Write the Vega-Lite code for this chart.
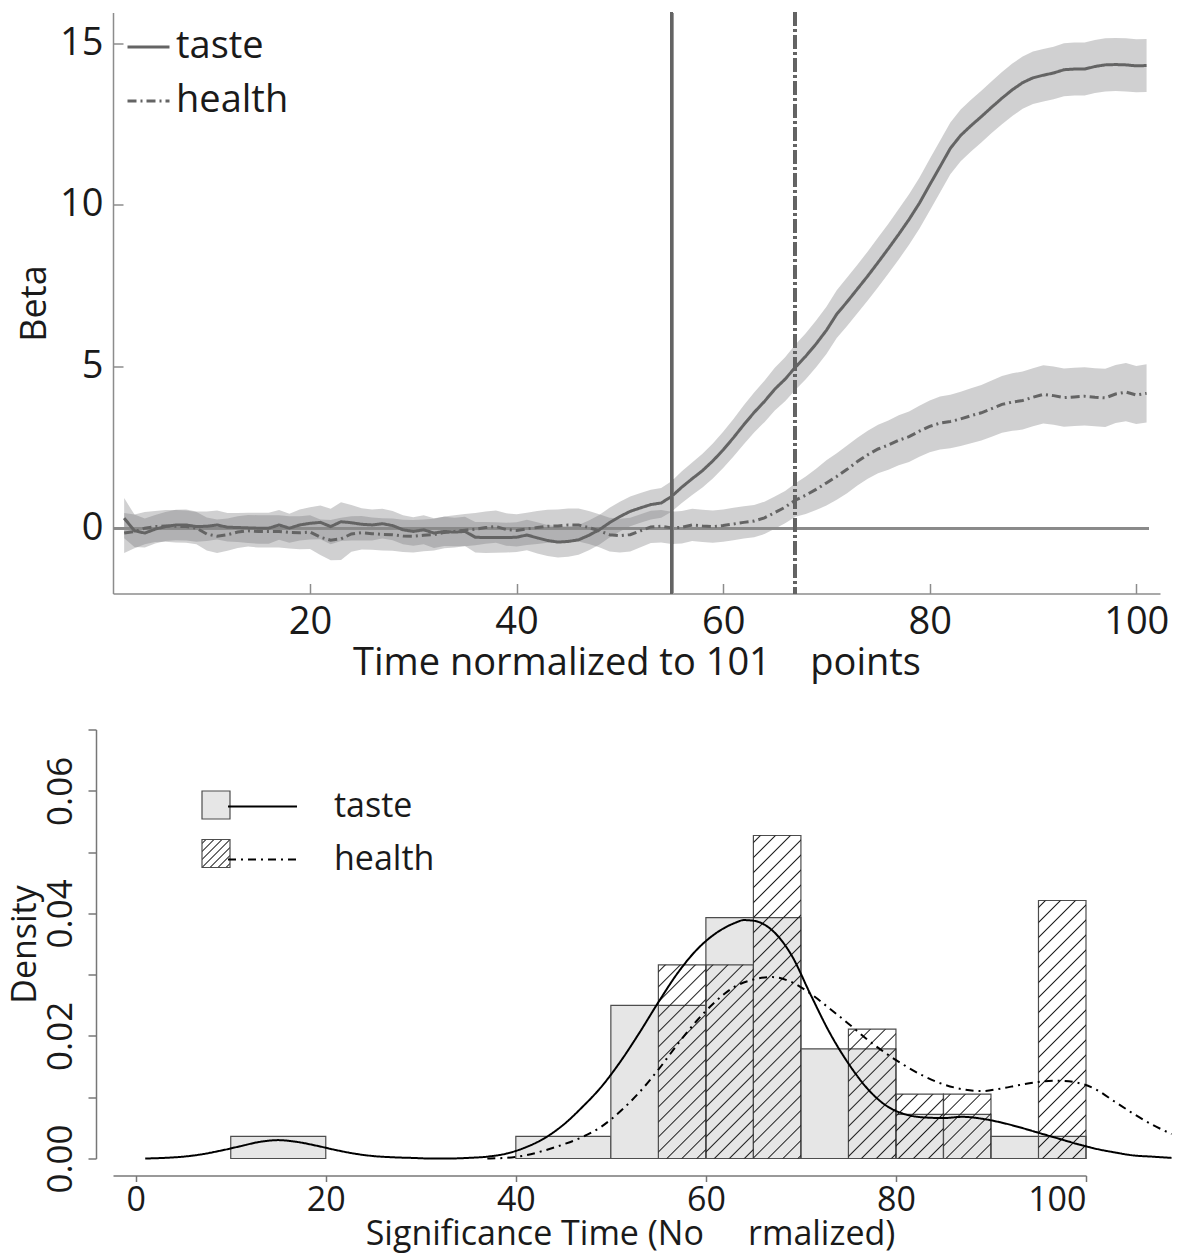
{
"$schema": "https://vega.github.io/schema/vega-lite/v6.json",
"autosize": {"type": "pad"},
"padding": {"left": 8, "top": 10.5, "right": 5, "bottom": 3},
"bounds": "flush",
"spacing": 136,
"resolve": {"scale": {"strokeDash": "independent", "fill": "independent", "stroke": "independent"}, "legend": {"strokeDash": "independent", "fill": "independent", "stroke": "independent"}},
"config": {
  "view": {"stroke": null},
  "font": "Open Sans",
  "axis": {"grid": false, "labelColor": "#1a1a1a", "titleColor": "#1a1a1a", "titleFontWeight": "normal", "domainColor": "#8c8c8c", "tickColor": "#8c8c8c", "domainWidth": 1.5, "tickWidth": 1.5, "labelFont": "Open Sans", "titleFont": "Open Sans"},
  "legend": {"labelColor": "#1a1a1a", "labelFont": "Open Sans"}
},
"datasets": {
  "beta": [
{"t":2,"taste":0.31,"tLo":-0.31,"tHi":0.93,"health":-0.15,"hLo":-0.77,"hHi":0.47},
{"t":3,"taste":-0.08,"tLo":-0.58,"tHi":0.42,"health":-0.1,"hLo":-0.62,"hHi":0.42},
{"t":4,"taste":-0.15,"tLo":-0.6,"tHi":0.3,"health":0.0,"hLo":-0.5,"hHi":0.5},
{"t":5,"taste":-0.03,"tLo":-0.47,"tHi":0.41,"health":0.05,"hLo":-0.43,"hHi":0.53},
{"t":6,"taste":0.05,"tLo":-0.4,"tHi":0.5,"health":0.07,"hLo":-0.42,"hHi":0.56},
{"t":7,"taste":0.1,"tLo":-0.37,"tHi":0.57,"health":0.06,"hLo":-0.44,"hHi":0.56},
{"t":8,"taste":0.1,"tLo":-0.38,"tHi":0.58,"health":0.05,"hLo":-0.45,"hHi":0.55},
{"t":9,"taste":0.05,"tLo":-0.42,"tHi":0.52,"health":0.0,"hLo":-0.5,"hHi":0.5},
{"t":10,"taste":0.06,"tLo":-0.4,"tHi":0.52,"health":-0.18,"hLo":-0.69,"hHi":0.33},
{"t":11,"taste":0.1,"tLo":-0.35,"tHi":0.55,"health":-0.25,"hLo":-0.77,"hHi":0.27},
{"t":12,"taste":0.03,"tLo":-0.41,"tHi":0.47,"health":-0.2,"hLo":-0.7,"hHi":0.3},
{"t":13,"taste":0.02,"tLo":-0.43,"tHi":0.47,"health":-0.12,"hLo":-0.61,"hHi":0.37},
{"t":14,"taste":0.01,"tLo":-0.46,"tHi":0.48,"health":-0.08,"hLo":-0.57,"hHi":0.41},
{"t":15,"taste":0.0,"tLo":-0.48,"tHi":0.48,"health":-0.1,"hLo":-0.6,"hHi":0.4},
{"t":16,"taste":0.0,"tLo":-0.48,"tHi":0.48,"health":-0.1,"hLo":-0.6,"hHi":0.4},
{"t":17,"taste":0.1,"tLo":-0.36,"tHi":0.56,"health":-0.1,"hLo":-0.6,"hHi":0.4},
{"t":18,"taste":0.0,"tLo":-0.45,"tHi":0.45,"health":-0.13,"hLo":-0.63,"hHi":0.37},
{"t":19,"taste":0.1,"tLo":-0.38,"tHi":0.58,"health":-0.14,"hLo":-0.65,"hHi":0.37},
{"t":20,"taste":0.15,"tLo":-0.35,"tHi":0.65,"health":-0.12,"hLo":-0.64,"hHi":0.4},
{"t":21,"taste":0.18,"tLo":-0.34,"tHi":0.7,"health":-0.28,"hLo":-0.83,"hHi":0.27},
{"t":22,"taste":0.05,"tLo":-0.5,"tHi":0.6,"health":-0.37,"hLo":-0.99,"hHi":0.25},
{"t":23,"taste":0.2,"tLo":-0.4,"tHi":0.8,"health":-0.33,"hLo":-0.98,"hHi":0.32},
{"t":24,"taste":0.17,"tLo":-0.38,"tHi":0.72,"health":-0.18,"hLo":-0.73,"hHi":0.37},
{"t":25,"taste":0.12,"tLo":-0.38,"tHi":0.62,"health":-0.14,"hLo":-0.66,"hHi":0.38},
{"t":26,"taste":0.1,"tLo":-0.38,"tHi":0.58,"health":-0.17,"hLo":-0.67,"hHi":0.33},
{"t":27,"taste":0.14,"tLo":-0.32,"tHi":0.6,"health":-0.19,"hLo":-0.69,"hHi":0.31},
{"t":28,"taste":0.08,"tLo":-0.37,"tHi":0.53,"health":-0.2,"hLo":-0.7,"hHi":0.3},
{"t":29,"taste":-0.05,"tLo":-0.5,"tHi":0.4,"health":-0.24,"hLo":-0.74,"hHi":0.26},
{"t":30,"taste":-0.1,"tLo":-0.54,"tHi":0.34,"health":-0.25,"hLo":-0.75,"hHi":0.25},
{"t":31,"taste":-0.05,"tLo":-0.5,"tHi":0.4,"health":-0.22,"hLo":-0.71,"hHi":0.27},
{"t":32,"taste":-0.15,"tLo":-0.61,"tHi":0.31,"health":-0.2,"hLo":-0.69,"hHi":0.29},
{"t":33,"taste":-0.1,"tLo":-0.55,"tHi":0.35,"health":-0.13,"hLo":-0.62,"hHi":0.36},
{"t":34,"taste":-0.12,"tLo":-0.56,"tHi":0.32,"health":-0.1,"hLo":-0.6,"hHi":0.4},
{"t":35,"taste":-0.1,"tLo":-0.55,"tHi":0.35,"health":-0.06,"hLo":-0.56,"hHi":0.44},
{"t":36,"taste":-0.28,"tLo":-0.75,"tHi":0.19,"health":-0.03,"hLo":-0.53,"hHi":0.47},
{"t":37,"taste":-0.29,"tLo":-0.77,"tHi":0.19,"health":0.02,"hLo":-0.48,"hHi":0.52},
{"t":38,"taste":-0.29,"tLo":-0.76,"tHi":0.18,"health":0.05,"hLo":-0.45,"hHi":0.55},
{"t":39,"taste":-0.29,"tLo":-0.75,"tHi":0.17,"health":-0.04,"hLo":-0.54,"hHi":0.46},
{"t":40,"taste":-0.28,"tLo":-0.74,"tHi":0.18,"health":-0.07,"hLo":-0.57,"hHi":0.43},
{"t":41,"taste":-0.21,"tLo":-0.68,"tHi":0.26,"health":-0.02,"hLo":-0.52,"hHi":0.48},
{"t":42,"taste":-0.3,"tLo":-0.78,"tHi":0.18,"health":0.02,"hLo":-0.49,"hHi":0.53},
{"t":43,"taste":-0.38,"tLo":-0.86,"tHi":0.1,"health":0.06,"hLo":-0.45,"hHi":0.57},
{"t":44,"taste":-0.43,"tLo":-0.91,"tHi":0.05,"health":0.07,"hLo":-0.44,"hHi":0.58},
{"t":45,"taste":-0.41,"tLo":-0.88,"tHi":0.06,"health":0.1,"hLo":-0.41,"hHi":0.61},
{"t":46,"taste":-0.36,"tLo":-0.82,"tHi":0.1,"health":0.1,"hLo":-0.41,"hHi":0.61},
{"t":47,"taste":-0.22,"tLo":-0.68,"tHi":0.24,"health":0.02,"hLo":-0.49,"hHi":0.53},
{"t":48,"taste":-0.05,"tLo":-0.51,"tHi":0.41,"health":-0.08,"hLo":-0.59,"hHi":0.43},
{"t":49,"taste":0.17,"tLo":-0.29,"tHi":0.63,"health":-0.2,"hLo":-0.72,"hHi":0.32},
{"t":50,"taste":0.36,"tLo":-0.1,"tHi":0.82,"health":-0.23,"hLo":-0.75,"hHi":0.29},
{"t":51,"taste":0.52,"tLo":0.06,"tHi":0.98,"health":-0.2,"hLo":-0.72,"hHi":0.32},
{"t":52,"taste":0.63,"tLo":0.17,"tHi":1.09,"health":-0.08,"hLo":-0.59,"hHi":0.43},
{"t":53,"taste":0.73,"tLo":0.27,"tHi":1.19,"health":0.04,"hLo":-0.46,"hHi":0.54},
{"t":54,"taste":0.78,"tLo":0.32,"tHi":1.24,"health":0.06,"hLo":-0.44,"hHi":0.56},
{"t":55,"taste":0.98,"tLo":0.51,"tHi":1.45,"health":0.01,"hLo":-0.49,"hHi":0.51},
{"t":56,"taste":1.27,"tLo":0.78,"tHi":1.76,"health":0.03,"hLo":-0.47,"hHi":0.53},
{"t":57,"taste":1.53,"tLo":1.03,"tHi":2.03,"health":0.1,"hLo":-0.4,"hHi":0.6},
{"t":58,"taste":1.78,"tLo":1.26,"tHi":2.3,"health":0.07,"hLo":-0.43,"hHi":0.57},
{"t":59,"taste":2.08,"tLo":1.54,"tHi":2.62,"health":0.05,"hLo":-0.45,"hHi":0.55},
{"t":60,"taste":2.42,"tLo":1.86,"tHi":2.98,"health":0.08,"hLo":-0.42,"hHi":0.58},
{"t":61,"taste":2.8,"tLo":2.22,"tHi":3.38,"health":0.13,"hLo":-0.37,"hHi":0.63},
{"t":62,"taste":3.2,"tLo":2.6,"tHi":3.8,"health":0.18,"hLo":-0.32,"hHi":0.68},
{"t":63,"taste":3.58,"tLo":2.96,"tHi":4.2,"health":0.22,"hLo":-0.28,"hHi":0.72},
{"t":64,"taste":3.92,"tLo":3.28,"tHi":4.56,"health":0.32,"hLo":-0.18,"hHi":0.82},
{"t":65,"taste":4.3,"tLo":3.64,"tHi":4.96,"health":0.48,"hLo":-0.02,"hHi":0.98},
{"t":66,"taste":4.61,"tLo":3.93,"tHi":5.29,"health":0.65,"hLo":0.15,"hHi":1.15},
{"t":67,"taste":4.98,"tLo":4.28,"tHi":5.68,"health":0.87,"hLo":0.35,"hHi":1.39},
{"t":68,"taste":5.32,"tLo":4.61,"tHi":6.03,"health":1.02,"hLo":0.44,"hHi":1.6},
{"t":69,"taste":5.7,"tLo":4.98,"tHi":6.42,"health":1.2,"hLo":0.56,"hHi":1.84},
{"t":70,"taste":6.12,"tLo":5.39,"tHi":6.85,"health":1.4,"hLo":0.7,"hHi":2.1},
{"t":71,"taste":6.62,"tLo":5.88,"tHi":7.36,"health":1.6,"hLo":0.88,"hHi":2.32},
{"t":72,"taste":7.0,"tLo":6.25,"tHi":7.75,"health":1.82,"hLo":1.08,"hHi":2.56},
{"t":73,"taste":7.4,"tLo":6.65,"tHi":8.15,"health":2.06,"hLo":1.32,"hHi":2.8},
{"t":74,"taste":7.8,"tLo":7.04,"tHi":8.56,"health":2.27,"hLo":1.53,"hHi":3.01},
{"t":75,"taste":8.22,"tLo":7.45,"tHi":8.99,"health":2.45,"hLo":1.7,"hHi":3.2},
{"t":76,"taste":8.65,"tLo":7.88,"tHi":9.42,"health":2.57,"hLo":1.81,"hHi":3.33},
{"t":77,"taste":9.09,"tLo":8.31,"tHi":9.87,"health":2.72,"hLo":1.95,"hHi":3.49},
{"t":78,"taste":9.55,"tLo":8.77,"tHi":10.33,"health":2.83,"hLo":2.05,"hHi":3.61},
{"t":79,"taste":10.05,"tLo":9.26,"tHi":10.84,"health":3.0,"hLo":2.21,"hHi":3.79},
{"t":80,"taste":10.62,"tLo":9.82,"tHi":11.42,"health":3.15,"hLo":2.35,"hHi":3.95},
{"t":81,"taste":11.18,"tLo":10.38,"tHi":11.98,"health":3.25,"hLo":2.43,"hHi":4.07},
{"t":82,"taste":11.75,"tLo":10.95,"tHi":12.55,"health":3.3,"hLo":2.47,"hHi":4.13},
{"t":83,"taste":12.15,"tLo":11.35,"tHi":12.95,"health":3.38,"hLo":2.54,"hHi":4.22},
{"t":84,"taste":12.45,"tLo":11.65,"tHi":13.25,"health":3.48,"hLo":2.63,"hHi":4.33},
{"t":85,"taste":12.73,"tLo":11.93,"tHi":13.53,"health":3.57,"hLo":2.71,"hHi":4.43},
{"t":86,"taste":13.02,"tLo":12.22,"tHi":13.82,"health":3.7,"hLo":2.83,"hHi":4.57},
{"t":87,"taste":13.3,"tLo":12.49,"tHi":14.11,"health":3.83,"hLo":2.95,"hHi":4.71},
{"t":88,"taste":13.56,"tLo":12.75,"tHi":14.37,"health":3.9,"hLo":3.01,"hHi":4.79},
{"t":89,"taste":13.78,"tLo":12.97,"tHi":14.59,"health":3.95,"hLo":3.05,"hHi":4.85},
{"t":90,"taste":13.93,"tLo":13.12,"tHi":14.74,"health":4.05,"hLo":3.15,"hHi":4.95},
{"t":91,"taste":14.01,"tLo":13.2,"tHi":14.82,"health":4.14,"hLo":3.24,"hHi":5.04},
{"t":92,"taste":14.08,"tLo":13.27,"tHi":14.89,"health":4.1,"hLo":3.2,"hHi":5.0},
{"t":93,"taste":14.18,"tLo":13.36,"tHi":15.0,"health":4.04,"hLo":3.14,"hHi":4.94},
{"t":94,"taste":14.2,"tLo":13.38,"tHi":15.02,"health":4.06,"hLo":3.16,"hHi":4.96},
{"t":95,"taste":14.2,"tLo":13.38,"tHi":15.02,"health":4.08,"hLo":3.18,"hHi":4.98},
{"t":96,"taste":14.28,"tLo":13.46,"tHi":15.1,"health":4.05,"hLo":3.15,"hHi":4.95},
{"t":97,"taste":14.33,"tLo":13.51,"tHi":15.15,"health":4.03,"hLo":3.13,"hHi":4.93},
{"t":98,"taste":14.34,"tLo":13.52,"tHi":15.16,"health":4.15,"hLo":3.25,"hHi":5.05},
{"t":99,"taste":14.33,"tLo":13.51,"tHi":15.15,"health":4.21,"hLo":3.31,"hHi":5.11},
{"t":100,"taste":14.3,"tLo":13.48,"tHi":15.12,"health":4.12,"hLo":3.22,"hHi":5.02},
{"t":101,"taste":14.31,"tLo":13.49,"tHi":15.13,"health":4.17,"hLo":3.27,"hHi":5.07}
  ],
  "hist": [
{"hist":"taste","x0":10,"x1":20,"density":0.0036},
{"hist":"taste","x0":40,"x1":50,"density":0.0036},
{"hist":"taste","x0":50,"x1":60,"density":0.025},
{"hist":"taste","x0":60,"x1":70,"density":0.0393},
{"hist":"taste","x0":70,"x1":80,"density":0.0179},
{"hist":"taste","x0":80,"x1":90,"density":0.0072},
{"hist":"taste","x0":90,"x1":100,"density":0.0036},
{"hist":"health","x0":55,"x1":60,"density":0.0316},
{"hist":"health","x0":60,"x1":65,"density":0.0316},
{"hist":"health","x0":65,"x1":70,"density":0.0527},
{"hist":"health","x0":75,"x1":80,"density":0.0211},
{"hist":"health","x0":80,"x1":85,"density":0.0105},
{"hist":"health","x0":85,"x1":90,"density":0.0105},
{"hist":"health","x0":95,"x1":100,"density":0.0421}
  ],
  "dens": [
{"curve":"taste","x":1,"density":0.0},
{"curve":"taste","x":3,"density":0.0001},
{"curve":"taste","x":5,"density":0.0003},
{"curve":"taste","x":7,"density":0.0007},
{"curve":"taste","x":9,"density":0.0013},
{"curve":"taste","x":11,"density":0.002},
{"curve":"taste","x":13,"density":0.0027},
{"curve":"taste","x":15,"density":0.003},
{"curve":"taste","x":17,"density":0.0027},
{"curve":"taste","x":19,"density":0.0021},
{"curve":"taste","x":21,"density":0.0014},
{"curve":"taste","x":23,"density":0.0008},
{"curve":"taste","x":25,"density":0.0004},
{"curve":"taste","x":27,"density":0.0002},
{"curve":"taste","x":29,"density":0.0001},
{"curve":"taste","x":31,"density":0.0},
{"curve":"taste","x":33,"density":0.0},
{"curve":"taste","x":35,"density":0.0001},
{"curve":"taste","x":37,"density":0.0003},
{"curve":"taste","x":39,"density":0.0008},
{"curve":"taste","x":41,"density":0.0018},
{"curve":"taste","x":43,"density":0.0033},
{"curve":"taste","x":45,"density":0.0055},
{"curve":"taste","x":47,"density":0.0084},
{"curve":"taste","x":49,"density":0.0117},
{"curve":"taste","x":51,"density":0.0158},
{"curve":"taste","x":53,"density":0.0205},
{"curve":"taste","x":55,"density":0.0255},
{"curve":"taste","x":57,"density":0.0302},
{"curve":"taste","x":59,"density":0.034},
{"curve":"taste","x":61,"density":0.0367},
{"curve":"taste","x":63,"density":0.0384},
{"curve":"taste","x":64,"density":0.0389},
{"curve":"taste","x":65,"density":0.0388},
{"curve":"taste","x":67,"density":0.0372},
{"curve":"taste","x":69,"density":0.0332},
{"curve":"taste","x":71,"density":0.0268},
{"curve":"taste","x":73,"density":0.0206},
{"curve":"taste","x":75,"density":0.0155},
{"curve":"taste","x":77,"density":0.0114},
{"curve":"taste","x":79,"density":0.0086},
{"curve":"taste","x":81,"density":0.0072},
{"curve":"taste","x":83,"density":0.0067},
{"curve":"taste","x":85,"density":0.0066},
{"curve":"taste","x":87,"density":0.0068},
{"curve":"taste","x":89,"density":0.0065},
{"curve":"taste","x":91,"density":0.0059},
{"curve":"taste","x":93,"density":0.0051},
{"curve":"taste","x":95,"density":0.0042},
{"curve":"taste","x":97,"density":0.0033},
{"curve":"taste","x":99,"density":0.0024},
{"curve":"taste","x":101,"density":0.0016},
{"curve":"taste","x":103,"density":0.001},
{"curve":"taste","x":105,"density":0.0005},
{"curve":"taste","x":107,"density":0.0003},
{"curve":"taste","x":109,"density":0.0001},
{"curve":"health","x":37,"density":0.0},
{"curve":"health","x":39,"density":0.0001},
{"curve":"health","x":41,"density":0.0005},
{"curve":"health","x":43,"density":0.0013},
{"curve":"health","x":45,"density":0.0023},
{"curve":"health","x":47,"density":0.0035},
{"curve":"health","x":49,"density":0.0052},
{"curve":"health","x":51,"density":0.0077},
{"curve":"health","x":53,"density":0.0108},
{"curve":"health","x":55,"density":0.0145},
{"curve":"health","x":57,"density":0.0186},
{"curve":"health","x":59,"density":0.0224},
{"curve":"health","x":61,"density":0.0256},
{"curve":"health","x":63,"density":0.028},
{"curve":"health","x":65,"density":0.0292},
{"curve":"health","x":67,"density":0.0296},
{"curve":"health","x":69,"density":0.0288},
{"curve":"health","x":71,"density":0.0269},
{"curve":"health","x":73,"density":0.0245},
{"curve":"health","x":75,"density":0.022},
{"curve":"health","x":77,"density":0.0194},
{"curve":"health","x":79,"density":0.0171},
{"curve":"health","x":81,"density":0.0151},
{"curve":"health","x":83,"density":0.0134},
{"curve":"health","x":85,"density":0.0121},
{"curve":"health","x":87,"density":0.0113},
{"curve":"health","x":89,"density":0.011},
{"curve":"health","x":91,"density":0.0114},
{"curve":"health","x":93,"density":0.012},
{"curve":"health","x":95,"density":0.0125},
{"curve":"health","x":97,"density":0.0127},
{"curve":"health","x":99,"density":0.0124},
{"curve":"health","x":101,"density":0.0113},
{"curve":"health","x":103,"density":0.0093},
{"curve":"health","x":105,"density":0.0073},
{"curve":"health","x":107,"density":0.0055},
{"curve":"health","x":109,"density":0.004}
  ]
},
"vconcat": [
{
  "width": 1047,
  "height": 581,
  "data": {"name": "beta"},
  "layer": [
    {"mark": {"type": "area", "color": "#78787c", "opacity": 0.35},
     "encoding": {
       "x": {"field": "t", "type": "quantitative", "scale": {"domain": [0.92, 102.3], "nice": false, "zero": false},
             "axis": {"values": [20, 40, 60, 80, 100], "tickSize": -10, "labelPadding": 20, "labelFontSize": 38, "title": "Time normalized to 101\u00a0\u00a0\u00a0 points", "titleFontSize": 38, "titlePadding": 3}},
       "y": {"field": "tLo", "type": "quantitative", "scale": {"domain": [-2.02, 15.95], "nice": false, "zero": false},
             "axis": {"values": [0, 5, 10, 15], "tickSize": -10, "labelPadding": 20, "labelFontSize": 38, "title": "Beta", "titleFontSize": 36, "titlePadding": 6}},
       "y2": {"field": "tHi"}
     }},
    {"mark": {"type": "area", "color": "#78787c", "opacity": 0.35},
     "encoding": {
       "x": {"field": "t", "type": "quantitative"},
       "y": {"field": "hLo", "type": "quantitative"},
       "y2": {"field": "hHi"}
     }},
    {"mark": {"type": "rule", "color": "#8a8a8a", "strokeWidth": 2},
     "encoding": {"x": {"datum": 0.92}, "x2": {"datum": 101.2}, "y": {"datum": 0}}},
    {"mark": {"type": "line", "color": "#646464", "strokeWidth": 3},
     "encoding": {
       "x": {"field": "t", "type": "quantitative"},
       "y": {"field": "taste", "type": "quantitative"},
       "strokeDash": {"datum": "taste", "scale": {"domain": ["taste", "health"], "range": [[1, 0], [9, 4, 2, 4]]},
         "legend": {"orient": "none", "legendX": 13, "legendY": 12, "title": null, "symbolType": "stroke", "symbolSize": 1764, "symbolStrokeWidth": 3, "symbolStrokeColor": "#646464", "labelOffset": 5, "labelFontSize": 38, "rowPadding": 12}}
     }},
    {"mark": {"type": "line", "color": "#646464", "strokeWidth": 3},
     "encoding": {
       "x": {"field": "t", "type": "quantitative"},
       "y": {"field": "health", "type": "quantitative"},
       "strokeDash": {"datum": "health"}
     }},
    {"mark": {"type": "rule", "color": "#646464", "strokeWidth": 3},
     "encoding": {"x": {"datum": 55}}},
    {"mark": {"type": "rule", "color": "#646464", "strokeWidth": 3, "strokeDash": [13, 4, 2, 4]},
     "encoding": {"x": {"datum": 67}}}
  ]
},
{
  "width": 973,
  "height": 429,
  "layer": [
    {"data": {"name": "hist"},
     "mark": {"type": "bar", "strokeWidth": 1.2},
     "encoding": {
       "x": {"field": "x0", "type": "quantitative", "scale": {"domain": [-2.39, 100], "nice": false, "zero": false},
             "axis": {"values": [0, 20, 40, 60, 80, 100], "offset": 17, "tickSize": 6, "labelPadding": 2, "labelFontSize": 34, "domainColor": "#777", "tickColor": "#777",
                      "title": "Significance Time (No\u00a0\u00a0\u00a0\u00a0 rmalized)", "titleFontSize": 34, "titlePadding": 0, "titleX": 517}},
       "x2": {"field": "x1"},
       "y": {"field": "density", "type": "quantitative", "scale": {"domain": [0, 0.07], "nice": false},
             "axis": {"values": [0, 0.01, 0.02, 0.03, 0.04, 0.05, 0.06, 0.07], "offset": 17, "tickSize": 8, "labelAngle": -90, "labelAlign": "center", "labelBaseline": "alphabetic", "labelPadding": 17,
                      "labelExpr": "round(datum.value*100) % 2 === 0 ? format(datum.value, '.2f') : ''", "labelFontSize": 35, "domainColor": "#777", "tickColor": "#777",
                      "title": "Density", "titleFontSize": 34, "titlePadding": 1}},
       "y2": {"datum": 0},
       "fill": {"field": "hist", "type": "nominal", "sort": "descending", "scale": {"range": ["#e6e6e6", "rgba(0,0,0,0)"]}, "legend": null},
       "stroke": {"field": "hist", "type": "nominal", "scale": {"domain": ["taste", "health"], "range": ["#4d4d4d", "#4d4d4d"]},
         "legend": {"orient": "none", "legendX": 86, "legendY": 58.5, "title": null, "symbolType": "square", "symbolSize": 784, "symbolStrokeWidth": 1.2, "labelFontSize": 34, "labelOpacity": 0, "rowPadding": 14.5,
           "encoding": {"symbols": {
             "strokeWidth": {"value": 1.2},
             "fill": {"condition": {"test": "datum.value === 'health'", "value": {"gradient": "linear", "x1": 0, "y1": 0, "x2": 1, "y2": 1, "stops": [
               {"offset":0.0464,"color":"rgba(30,30,30,0)"},{"offset":0.0714,"color":"#1e1e1e"},{"offset":0.0964,"color":"rgba(30,30,30,0)"},
               {"offset":0.1893,"color":"rgba(30,30,30,0)"},{"offset":0.2143,"color":"#1e1e1e"},{"offset":0.2393,"color":"rgba(30,30,30,0)"},
               {"offset":0.3321,"color":"rgba(30,30,30,0)"},{"offset":0.3571,"color":"#1e1e1e"},{"offset":0.3821,"color":"rgba(30,30,30,0)"},
               {"offset":0.475,"color":"rgba(30,30,30,0)"},{"offset":0.5,"color":"#1e1e1e"},{"offset":0.525,"color":"rgba(30,30,30,0)"},
               {"offset":0.6179,"color":"rgba(30,30,30,0)"},{"offset":0.6429,"color":"#1e1e1e"},{"offset":0.6679,"color":"rgba(30,30,30,0)"},
               {"offset":0.7607,"color":"rgba(30,30,30,0)"},{"offset":0.7857,"color":"#1e1e1e"},{"offset":0.8107,"color":"rgba(30,30,30,0)"},
               {"offset":0.9036,"color":"rgba(30,30,30,0)"},{"offset":0.9286,"color":"#1e1e1e"},{"offset":0.9536,"color":"rgba(30,30,30,0)"}]}},
               "value": "#e6e6e6"}}}}}
     }},
    {"data": {"name": "hist"},
     "transform": [{"filter": "datum.hist === 'health'"}],
     "mark": {"type": "bar", "strokeWidth": 0},
     "encoding": {
       "x": {"field": "x0", "type": "quantitative"},
       "x2": {"field": "x1"},
       "y": {"field": "density", "type": "quantitative"},
       "y2": {"datum": 0},
       "fill": {"condition": [
         {"test": "datum.density < 0.015", "value": {"gradient": "linear", "x1": 0, "y1": 0, "x2": 0.8291, "y2": 1.1259, "stops": [
           {"offset":0.05,"color":"rgba(30,30,30,0)"},{"offset":0.0625,"color":"#1e1e1e"},{"offset":0.075,"color":"rgba(30,30,30,0)"},
           {"offset":0.1839,"color":"rgba(30,30,30,0)"},{"offset":0.1964,"color":"#1e1e1e"},{"offset":0.2089,"color":"rgba(30,30,30,0)"},
           {"offset":0.3179,"color":"rgba(30,30,30,0)"},{"offset":0.3304,"color":"#1e1e1e"},{"offset":0.3429,"color":"rgba(30,30,30,0)"},
           {"offset":0.4518,"color":"rgba(30,30,30,0)"},{"offset":0.4643,"color":"#1e1e1e"},{"offset":0.4768,"color":"rgba(30,30,30,0)"},
           {"offset":0.5857,"color":"rgba(30,30,30,0)"},{"offset":0.5982,"color":"#1e1e1e"},{"offset":0.6107,"color":"rgba(30,30,30,0)"},
           {"offset":0.7196,"color":"rgba(30,30,30,0)"},{"offset":0.7321,"color":"#1e1e1e"},{"offset":0.7446,"color":"rgba(30,30,30,0)"},
           {"offset":0.8536,"color":"rgba(30,30,30,0)"},{"offset":0.8661,"color":"#1e1e1e"},{"offset":0.8786,"color":"rgba(30,30,30,0)"}]}},
         {"test": "datum.density < 0.025", "value": {"gradient": "linear", "x1": 0, "y1": 0, "x2": 0.4437, "y2": 1.2049, "stops": [
           {"offset":0.0317,"color":"rgba(30,30,30,0)"},{"offset":0.0397,"color":"#1e1e1e"},{"offset":0.0476,"color":"rgba(30,30,30,0)"},
           {"offset":0.1167,"color":"rgba(30,30,30,0)"},{"offset":0.1246,"color":"#1e1e1e"},{"offset":0.1326,"color":"rgba(30,30,30,0)"},
           {"offset":0.2017,"color":"rgba(30,30,30,0)"},{"offset":0.2096,"color":"#1e1e1e"},{"offset":0.2176,"color":"rgba(30,30,30,0)"},
           {"offset":0.2867,"color":"rgba(30,30,30,0)"},{"offset":0.2946,"color":"#1e1e1e"},{"offset":0.3026,"color":"rgba(30,30,30,0)"},
           {"offset":0.3717,"color":"rgba(30,30,30,0)"},{"offset":0.3796,"color":"#1e1e1e"},{"offset":0.3875,"color":"rgba(30,30,30,0)"},
           {"offset":0.4567,"color":"rgba(30,30,30,0)"},{"offset":0.4646,"color":"#1e1e1e"},{"offset":0.4725,"color":"rgba(30,30,30,0)"},
           {"offset":0.5416,"color":"rgba(30,30,30,0)"},{"offset":0.5496,"color":"#1e1e1e"},{"offset":0.5575,"color":"rgba(30,30,30,0)"},
           {"offset":0.6266,"color":"rgba(30,30,30,0)"},{"offset":0.6346,"color":"#1e1e1e"},{"offset":0.6425,"color":"rgba(30,30,30,0)"},
           {"offset":0.7116,"color":"rgba(30,30,30,0)"},{"offset":0.7195,"color":"#1e1e1e"},{"offset":0.7275,"color":"rgba(30,30,30,0)"},
           {"offset":0.7966,"color":"rgba(30,30,30,0)"},{"offset":0.8045,"color":"#1e1e1e"},{"offset":0.8125,"color":"rgba(30,30,30,0)"},
           {"offset":0.8816,"color":"rgba(30,30,30,0)"},{"offset":0.8895,"color":"#1e1e1e"},{"offset":0.8975,"color":"rgba(30,30,30,0)"},
           {"offset":0.9666,"color":"rgba(30,30,30,0)"},{"offset":0.9745,"color":"#1e1e1e"},{"offset":0.9824,"color":"rgba(30,30,30,0)"}]}},
         {"test": "datum.density < 0.035", "value": {"gradient": "linear", "x1": 0, "y1": 0, "x2": 0.2884, "y2": 1.1747, "stops": [
           {"offset":0.0232,"color":"rgba(30,30,30,0)"},{"offset":0.029,"color":"#1e1e1e"},{"offset":0.0349,"color":"rgba(30,30,30,0)"},
           {"offset":0.0855,"color":"rgba(30,30,30,0)"},{"offset":0.0913,"color":"#1e1e1e"},{"offset":0.0971,"color":"rgba(30,30,30,0)"},
           {"offset":0.1477,"color":"rgba(30,30,30,0)"},{"offset":0.1535,"color":"#1e1e1e"},{"offset":0.1593,"color":"rgba(30,30,30,0)"},
           {"offset":0.21,"color":"rgba(30,30,30,0)"},{"offset":0.2158,"color":"#1e1e1e"},{"offset":0.2216,"color":"rgba(30,30,30,0)"},
           {"offset":0.2722,"color":"rgba(30,30,30,0)"},{"offset":0.278,"color":"#1e1e1e"},{"offset":0.2838,"color":"rgba(30,30,30,0)"},
           {"offset":0.3344,"color":"rgba(30,30,30,0)"},{"offset":0.3403,"color":"#1e1e1e"},{"offset":0.3461,"color":"rgba(30,30,30,0)"},
           {"offset":0.3967,"color":"rgba(30,30,30,0)"},{"offset":0.4025,"color":"#1e1e1e"},{"offset":0.4083,"color":"rgba(30,30,30,0)"},
           {"offset":0.4589,"color":"rgba(30,30,30,0)"},{"offset":0.4647,"color":"#1e1e1e"},{"offset":0.4705,"color":"rgba(30,30,30,0)"},
           {"offset":0.5212,"color":"rgba(30,30,30,0)"},{"offset":0.527,"color":"#1e1e1e"},{"offset":0.5328,"color":"rgba(30,30,30,0)"},
           {"offset":0.5834,"color":"rgba(30,30,30,0)"},{"offset":0.5892,"color":"#1e1e1e"},{"offset":0.595,"color":"rgba(30,30,30,0)"},
           {"offset":0.6456,"color":"rgba(30,30,30,0)"},{"offset":0.6515,"color":"#1e1e1e"},{"offset":0.6573,"color":"rgba(30,30,30,0)"},
           {"offset":0.7079,"color":"rgba(30,30,30,0)"},{"offset":0.7137,"color":"#1e1e1e"},{"offset":0.7195,"color":"rgba(30,30,30,0)"},
           {"offset":0.7701,"color":"rgba(30,30,30,0)"},{"offset":0.7759,"color":"#1e1e1e"},{"offset":0.7817,"color":"rgba(30,30,30,0)"},
           {"offset":0.8324,"color":"rgba(30,30,30,0)"},{"offset":0.8382,"color":"#1e1e1e"},{"offset":0.844,"color":"rgba(30,30,30,0)"},
           {"offset":0.8946,"color":"rgba(30,30,30,0)"},{"offset":0.9004,"color":"#1e1e1e"},{"offset":0.9062,"color":"rgba(30,30,30,0)"},
           {"offset":0.9568,"color":"rgba(30,30,30,0)"},{"offset":0.9627,"color":"#1e1e1e"},{"offset":0.9685,"color":"rgba(30,30,30,0)"}]}},
         {"test": "datum.density < 0.045", "value": {"gradient": "linear", "x1": 0, "y1": 0, "x2": 0.2109, "y2": 1.1453, "stops": [
           {"offset":0.0183,"color":"rgba(30,30,30,0)"},{"offset":0.0229,"color":"#1e1e1e"},{"offset":0.0275,"color":"rgba(30,30,30,0)"},
           {"offset":0.0674,"color":"rgba(30,30,30,0)"},{"offset":0.072,"color":"#1e1e1e"},{"offset":0.0766,"color":"rgba(30,30,30,0)"},
           {"offset":0.1165,"color":"rgba(30,30,30,0)"},{"offset":0.1211,"color":"#1e1e1e"},{"offset":0.1257,"color":"rgba(30,30,30,0)"},
           {"offset":0.1656,"color":"rgba(30,30,30,0)"},{"offset":0.1702,"color":"#1e1e1e"},{"offset":0.1748,"color":"rgba(30,30,30,0)"},
           {"offset":0.2147,"color":"rgba(30,30,30,0)"},{"offset":0.2193,"color":"#1e1e1e"},{"offset":0.2239,"color":"rgba(30,30,30,0)"},
           {"offset":0.2638,"color":"rgba(30,30,30,0)"},{"offset":0.2684,"color":"#1e1e1e"},{"offset":0.273,"color":"rgba(30,30,30,0)"},
           {"offset":0.3129,"color":"rgba(30,30,30,0)"},{"offset":0.3175,"color":"#1e1e1e"},{"offset":0.3221,"color":"rgba(30,30,30,0)"},
           {"offset":0.362,"color":"rgba(30,30,30,0)"},{"offset":0.3666,"color":"#1e1e1e"},{"offset":0.3712,"color":"rgba(30,30,30,0)"},
           {"offset":0.4111,"color":"rgba(30,30,30,0)"},{"offset":0.4157,"color":"#1e1e1e"},{"offset":0.4203,"color":"rgba(30,30,30,0)"},
           {"offset":0.4602,"color":"rgba(30,30,30,0)"},{"offset":0.4648,"color":"#1e1e1e"},{"offset":0.4694,"color":"rgba(30,30,30,0)"},
           {"offset":0.5093,"color":"rgba(30,30,30,0)"},{"offset":0.5139,"color":"#1e1e1e"},{"offset":0.5185,"color":"rgba(30,30,30,0)"},
           {"offset":0.5584,"color":"rgba(30,30,30,0)"},{"offset":0.563,"color":"#1e1e1e"},{"offset":0.5676,"color":"rgba(30,30,30,0)"},
           {"offset":0.6075,"color":"rgba(30,30,30,0)"},{"offset":0.6121,"color":"#1e1e1e"},{"offset":0.6167,"color":"rgba(30,30,30,0)"},
           {"offset":0.6566,"color":"rgba(30,30,30,0)"},{"offset":0.6612,"color":"#1e1e1e"},{"offset":0.6658,"color":"rgba(30,30,30,0)"},
           {"offset":0.7057,"color":"rgba(30,30,30,0)"},{"offset":0.7103,"color":"#1e1e1e"},{"offset":0.7149,"color":"rgba(30,30,30,0)"},
           {"offset":0.7548,"color":"rgba(30,30,30,0)"},{"offset":0.7594,"color":"#1e1e1e"},{"offset":0.764,"color":"rgba(30,30,30,0)"},
           {"offset":0.8039,"color":"rgba(30,30,30,0)"},{"offset":0.8085,"color":"#1e1e1e"},{"offset":0.8131,"color":"rgba(30,30,30,0)"},
           {"offset":0.853,"color":"rgba(30,30,30,0)"},{"offset":0.8576,"color":"#1e1e1e"},{"offset":0.8622,"color":"rgba(30,30,30,0)"},
           {"offset":0.9021,"color":"rgba(30,30,30,0)"},{"offset":0.9067,"color":"#1e1e1e"},{"offset":0.9113,"color":"rgba(30,30,30,0)"},
           {"offset":0.9512,"color":"rgba(30,30,30,0)"},{"offset":0.9558,"color":"#1e1e1e"},{"offset":0.9604,"color":"rgba(30,30,30,0)"}]}}
       ],
       "value": {"gradient": "linear", "x1": 0, "y1": 0, "x2": 0.1654, "y2": 1.1229, "stops": [
           {"offset":0.0151,"color":"rgba(30,30,30,0)"},{"offset":0.0189,"color":"#1e1e1e"},{"offset":0.0227,"color":"rgba(30,30,30,0)"},
           {"offset":0.0557,"color":"rgba(30,30,30,0)"},{"offset":0.0595,"color":"#1e1e1e"},{"offset":0.0632,"color":"rgba(30,30,30,0)"},
           {"offset":0.0962,"color":"rgba(30,30,30,0)"},{"offset":0.1,"color":"#1e1e1e"},{"offset":0.1038,"color":"rgba(30,30,30,0)"},
           {"offset":0.1368,"color":"rgba(30,30,30,0)"},{"offset":0.1405,"color":"#1e1e1e"},{"offset":0.1443,"color":"rgba(30,30,30,0)"},
           {"offset":0.1773,"color":"rgba(30,30,30,0)"},{"offset":0.1811,"color":"#1e1e1e"},{"offset":0.1849,"color":"rgba(30,30,30,0)"},
           {"offset":0.2178,"color":"rgba(30,30,30,0)"},{"offset":0.2216,"color":"#1e1e1e"},{"offset":0.2254,"color":"rgba(30,30,30,0)"},
           {"offset":0.2584,"color":"rgba(30,30,30,0)"},{"offset":0.2622,"color":"#1e1e1e"},{"offset":0.2659,"color":"rgba(30,30,30,0)"},
           {"offset":0.2989,"color":"rgba(30,30,30,0)"},{"offset":0.3027,"color":"#1e1e1e"},{"offset":0.3065,"color":"rgba(30,30,30,0)"},
           {"offset":0.3395,"color":"rgba(30,30,30,0)"},{"offset":0.3432,"color":"#1e1e1e"},{"offset":0.347,"color":"rgba(30,30,30,0)"},
           {"offset":0.38,"color":"rgba(30,30,30,0)"},{"offset":0.3838,"color":"#1e1e1e"},{"offset":0.3876,"color":"rgba(30,30,30,0)"},
           {"offset":0.4205,"color":"rgba(30,30,30,0)"},{"offset":0.4243,"color":"#1e1e1e"},{"offset":0.4281,"color":"rgba(30,30,30,0)"},
           {"offset":0.4611,"color":"rgba(30,30,30,0)"},{"offset":0.4649,"color":"#1e1e1e"},{"offset":0.4686,"color":"rgba(30,30,30,0)"},
           {"offset":0.5016,"color":"rgba(30,30,30,0)"},{"offset":0.5054,"color":"#1e1e1e"},{"offset":0.5092,"color":"rgba(30,30,30,0)"},
           {"offset":0.5422,"color":"rgba(30,30,30,0)"},{"offset":0.5459,"color":"#1e1e1e"},{"offset":0.5497,"color":"rgba(30,30,30,0)"},
           {"offset":0.5827,"color":"rgba(30,30,30,0)"},{"offset":0.5865,"color":"#1e1e1e"},{"offset":0.5903,"color":"rgba(30,30,30,0)"},
           {"offset":0.6232,"color":"rgba(30,30,30,0)"},{"offset":0.627,"color":"#1e1e1e"},{"offset":0.6308,"color":"rgba(30,30,30,0)"},
           {"offset":0.6638,"color":"rgba(30,30,30,0)"},{"offset":0.6676,"color":"#1e1e1e"},{"offset":0.6713,"color":"rgba(30,30,30,0)"},
           {"offset":0.7043,"color":"rgba(30,30,30,0)"},{"offset":0.7081,"color":"#1e1e1e"},{"offset":0.7119,"color":"rgba(30,30,30,0)"},
           {"offset":0.7449,"color":"rgba(30,30,30,0)"},{"offset":0.7486,"color":"#1e1e1e"},{"offset":0.7524,"color":"rgba(30,30,30,0)"},
           {"offset":0.7854,"color":"rgba(30,30,30,0)"},{"offset":0.7892,"color":"#1e1e1e"},{"offset":0.793,"color":"rgba(30,30,30,0)"},
           {"offset":0.8259,"color":"rgba(30,30,30,0)"},{"offset":0.8297,"color":"#1e1e1e"},{"offset":0.8335,"color":"rgba(30,30,30,0)"},
           {"offset":0.8665,"color":"rgba(30,30,30,0)"},{"offset":0.8703,"color":"#1e1e1e"},{"offset":0.874,"color":"rgba(30,30,30,0)"},
           {"offset":0.907,"color":"rgba(30,30,30,0)"},{"offset":0.9108,"color":"#1e1e1e"},{"offset":0.9146,"color":"rgba(30,30,30,0)"},
           {"offset":0.9476,"color":"rgba(30,30,30,0)"},{"offset":0.9514,"color":"#1e1e1e"},{"offset":0.9551,"color":"rgba(30,30,30,0)"},
           {"offset":0.9881,"color":"rgba(30,30,30,0)"},{"offset":0.9919,"color":"#1e1e1e"},{"offset":0.9957,"color":"rgba(30,30,30,0)"}]}
       }
     }},
    {"data": {"name": "dens"},
     "mark": {"type": "line", "color": "black", "strokeWidth": 2, "interpolate": "monotone"},
     "encoding": {
       "x": {"field": "x", "type": "quantitative"},
       "y": {"field": "density", "type": "quantitative"},
       "strokeDash": {"field": "curve", "type": "nominal", "sort": "descending", "scale": {"range": [[1, 0], [8, 5, 2, 5]]},
         "legend": {"orient": "none", "legendX": 114, "legendY": 41.5, "title": null, "symbolType": "stroke", "symbolSize": 4761, "symbolStrokeWidth": 1.8, "symbolStrokeColor": "black", "labelOffset": 36, "labelFontSize": 34, "rowPadding": 0}}
     }}
  ]
}
]
}
